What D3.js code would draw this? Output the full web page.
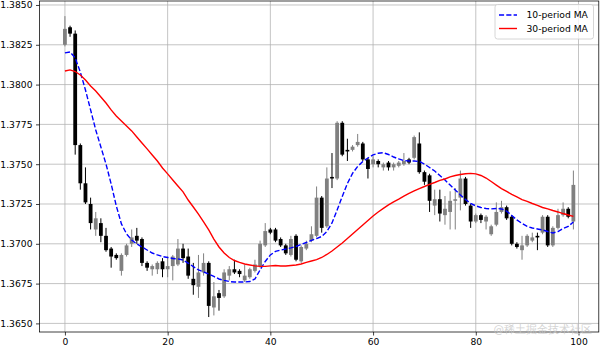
<!DOCTYPE html>
<html><head><meta charset="utf-8">
<script src="https://cdn.jsdelivr.net/npm/d3@7"></script>
<style>
body{margin:0;background:#fff}
svg{display:block}
text{font-family:"DejaVu Sans",sans-serif}
</style>
</head><body>
<svg id="chart" width="600" height="346"></svg>
<script>
// ---- data ----
const opens  = [1.3825,1.3836,1.3832,1.3762,1.3738,1.3725,1.3709,1.3713,1.3705,1.3697,
                1.3693,1.3683,1.3693,1.3700,1.3705,1.3703,1.3688,1.3684,1.3684,1.3689,
                1.3684,1.3686,1.3687,1.3697,1.3692,1.3678,1.3673,1.3682,1.3688,1.3660,
                1.3669,1.3667,1.3680,1.3684,1.3683,1.3677,1.3679,1.3683,1.3686,1.3699,
                1.3709,1.3709,1.3703,1.3699,1.3693,1.3705,1.3689,1.3697,1.3702,1.3705,
                1.3729,1.3711,1.3742,1.3741,1.3776,1.3759,1.3759,1.3762,1.3763,1.3753,
                1.3750,1.3752,1.3748,1.3751,1.3748,1.3749,1.3750,1.3753,1.3754,1.3763,
                1.3745,1.3743,1.3724,1.3728,1.3718,1.3720,1.3727,1.3729,1.3741,1.3724,
                1.3714,1.3718,1.3714,1.3706,1.3712,1.3720,1.3723,1.3717,1.3700,1.3696,
                1.3699,1.3702,1.3705,1.3707,1.3717,1.3699,1.3710,1.3718,1.3722,1.3714];
const highs  = [1.3843,1.3837,1.3834,1.3763,1.3748,1.3729,1.3720,1.3716,1.3710,1.3698,
                1.3694,1.3694,1.3700,1.3709,1.3710,1.3704,1.3689,1.3687,1.3689,1.3691,
                1.3692,1.3693,1.3703,1.3700,1.3697,1.3688,1.3693,1.3694,1.3689,1.3676,
                1.3671,1.3684,1.3686,1.3690,1.3684,1.3687,1.3685,1.3690,1.3702,1.3713,
                1.3710,1.3710,1.3704,1.3700,1.3705,1.3706,1.3699,1.3702,1.3711,1.3736,
                1.3730,1.3748,1.3757,1.3777,1.3777,1.3766,1.3762,1.3769,1.3764,1.3754,
                1.3755,1.3753,1.3751,1.3752,1.3751,1.3752,1.3757,1.3754,1.3768,1.3770,
                1.3746,1.3744,1.3734,1.3734,1.3730,1.3733,1.3735,1.3746,1.3742,1.3725,
                1.3719,1.3719,1.3718,1.3712,1.3726,1.3727,1.3724,1.3718,1.3701,1.3705,
                1.3706,1.3707,1.3707,1.3718,1.3718,1.3711,1.3722,1.3726,1.3723,1.3746];
const lows   = [1.3824,1.3830,1.3756,1.3734,1.3725,1.3709,1.3705,1.3701,1.3695,1.3685,
                1.3690,1.3680,1.3692,1.3698,1.3700,1.3686,1.3683,1.3680,1.3681,1.3679,
                1.3679,1.3677,1.3686,1.3688,1.3678,1.3668,1.3666,1.3680,1.3654,1.3655,
                1.3658,1.3666,1.3677,1.3681,1.3679,1.3676,1.3678,1.3682,1.3685,1.3698,
                1.3706,1.3701,1.3698,1.3693,1.3692,1.3689,1.3688,1.3696,1.3701,1.3704,
                1.3707,1.3710,1.3735,1.3740,1.3755,1.3752,1.3758,1.3761,1.3752,1.3741,
                1.3748,1.3748,1.3746,1.3746,1.3746,1.3748,1.3749,1.3750,1.3753,1.3744,
                1.3737,1.3720,1.3718,1.3714,1.3712,1.3709,1.3709,1.3721,1.3724,1.3710,
                1.3713,1.3713,1.3709,1.3705,1.3711,1.3719,1.3715,1.3699,1.3697,1.3690,
                1.3698,1.3701,1.3696,1.3706,1.3698,1.3698,1.3709,1.3717,1.3716,1.3709];
const closes = [1.3835,1.3832,1.3762,1.3738,1.3726,1.3713,1.3716,1.3705,1.3696,1.3692,
                1.3691,1.3693,1.3699,1.3704,1.3702,1.3688,1.3685,1.3686,1.3688,1.3684,
                1.3686,1.3692,1.3697,1.3691,1.3680,1.3674,1.3682,1.3688,1.3661,1.3667,
                1.3666,1.3682,1.3684,1.3682,1.3681,1.3680,1.3684,1.3687,1.3700,1.3708,
                1.3707,1.3702,1.3699,1.3694,1.3703,1.3690,1.3698,1.3700,1.3706,1.3729,
                1.3710,1.3741,1.3741,1.3776,1.3756,1.3758,1.3761,1.3764,1.3753,1.3747,
                1.3753,1.3750,1.3750,1.3748,1.3750,1.3751,1.3752,1.3751,1.3767,1.3745,
                1.3739,1.3727,1.3728,1.3719,1.3722,1.3727,1.3728,1.3741,1.3725,1.3714,
                1.3718,1.3715,1.3717,1.3711,1.3720,1.3723,1.3716,1.3700,1.3698,1.3699,
                1.3705,1.3704,1.3704,1.3717,1.3699,1.3710,1.3718,1.3722,1.3717,1.3737];
const ma10 = [1.38199,1.38205,1.38167,1.38079,1.37966,1.37841,1.37715,1.37608,1.37501,1.37376,
              1.37238,1.37125,1.37062,1.37024,1.36999,1.36980,1.36961,1.36942,1.36930,1.36920,
              1.36914,1.36908,1.36905,1.36898,1.36879,1.36857,1.36836,1.36823,1.36810,1.36795,
              1.36779,1.36770,1.36763,1.36760,1.36760,1.36760,1.36763,1.36779,1.36836,1.36889,
              1.36930,1.36952,1.36961,1.36967,1.36974,1.36983,1.36996,1.37008,1.37021,1.37033,
              1.37046,1.37077,1.37131,1.37212,1.37297,1.37379,1.37442,1.37486,1.37517,1.37539,
              1.37558,1.37569,1.37572,1.37561,1.37545,1.37533,1.37523,1.37520,1.37520,1.37517,
              1.37501,1.37479,1.37457,1.37429,1.37401,1.37369,1.37338,1.37307,1.37278,1.37254,
              1.37238,1.37228,1.37222,1.37219,1.37222,1.37219,1.37206,1.37178,1.37150,1.37128,
              1.37109,1.37099,1.37093,1.37087,1.37077,1.37068,1.37077,1.37096,1.37109,1.37137];
const ma30 = [1.38085,1.38092,1.38082,1.38060,1.38029,1.37991,1.37960,1.37922,1.37884,1.37841,
              1.37803,1.37771,1.37740,1.37709,1.37671,1.37633,1.37596,1.37558,1.37520,1.37476,
              1.37439,1.37401,1.37363,1.37326,1.37275,1.37231,1.37187,1.37137,1.37087,1.37030,
              1.36980,1.36942,1.36914,1.36895,1.36883,1.36873,1.36867,1.36861,1.36858,1.36858,
              1.36861,1.36864,1.36861,1.36861,1.36864,1.36867,1.36873,1.36883,1.36892,1.36901,
              1.36914,1.36933,1.36955,1.36980,1.37005,1.37033,1.37062,1.37090,1.37118,1.37146,
              1.37175,1.37200,1.37222,1.37244,1.37263,1.37281,1.37300,1.37316,1.37332,1.37347,
              1.37360,1.37373,1.37385,1.37398,1.37407,1.37420,1.37429,1.37435,1.37440,1.37442,
              1.37439,1.37429,1.37413,1.37391,1.37369,1.37347,1.37329,1.37310,1.37294,1.37278,
              1.37266,1.37253,1.37241,1.37228,1.37219,1.37209,1.37200,1.37190,1.37181,1.37172];
const xTicks = [0, 20, 40, 60, 80, 100];
const yTicks = [1.3650, 1.3675, 1.3700, 1.3725, 1.3750, 1.3775, 1.3800, 1.3825, 1.3850];
const seriesNames = ["10-period MA", "30-period MA"];
const watermark = "@稀土掘金技术社区";

// ---- layout ----
const L = 39.5, R = 598.8, T = 1, B = 332;
const fs = 9.2;
const svg = d3.select("#chart");
const x = d3.scaleLinear().domain([-4.95, 103.95]).range([L, R]);
const y = d3.scaleLinear().domain([1.36446, 1.38525]).range([B, T]);
const candles = opens.map((o, i) => ({i, o, h: highs[i], l: lows[i], c: closes[i]}));

svg.append("defs").append("clipPath").attr("id", "clip")
  .append("rect").attr("x", L).attr("y", T).attr("width", R - L).attr("height", B - T);

// grid
const grid = svg.append("g").attr("stroke", "#b0b0b0").attr("stroke-width", 0.75);
grid.selectAll(".gx").data(xTicks).join("line")
  .attr("x1", d => x(d)).attr("x2", d => x(d)).attr("y1", T).attr("y2", B);
grid.selectAll(".gy").data(yTicks).join("line")
  .attr("y1", d => y(d)).attr("y2", d => y(d)).attr("x1", L).attr("x2", R);

// candles
const plot = svg.append("g").attr("clip-path", "url(#clip)");
const col = d => d.c >= d.o ? "#808080" : "#000000";
const bw = 0.74;
plot.append("g").selectAll("line").data(candles).join("line")
  .attr("x1", d => x(d.i)).attr("x2", d => x(d.i))
  .attr("y1", d => y(d.h)).attr("y2", d => y(d.l))
  .attr("stroke", col).attr("stroke-width", 1);
plot.append("g").selectAll("rect").data(candles).join("rect")
  .attr("x", d => x(d.i - bw / 2))
  .attr("width", x(bw) - x(0))
  .attr("y", d => y(Math.max(d.o, d.c)))
  .attr("height", d => Math.max(0.8, Math.abs(y(d.o) - y(d.c))))
  .attr("fill", col);

// moving averages
const line = arr => d3.line().x((d, i) => x(i)).y(d => y(d))(arr);
plot.append("path").attr("d", line(ma10)).attr("fill", "none")
  .attr("stroke", "#0000ff").attr("stroke-width", 1.4).attr("stroke-dasharray", "5.1,2.2");
plot.append("path").attr("d", line(ma30)).attr("fill", "none")
  .attr("stroke", "#ff0000").attr("stroke-width", 1.4);

// axes
const ax = svg.append("g").attr("transform", `translate(0,${B})`)
  .call(d3.axisBottom(x).tickValues(xTicks).tickFormat(d3.format("d")).tickSize(3.5).tickPadding(3.3));
const ay = svg.append("g").attr("transform", `translate(${L},0)`)
  .call(d3.axisLeft(y).tickValues(yTicks).tickFormat(d3.format(".4f")).tickSize(3.5).tickPadding(3.5));
[ax, ay].forEach(g => {
  g.select(".domain").remove();
  g.selectAll("line").attr("stroke", "#000").attr("stroke-width", 0.75);
  g.selectAll("text").attr("font-size", fs).attr("fill", "#000")
    .attr("font-family", '"DejaVu Sans", sans-serif');
});

// spines
svg.append("rect").attr("x", L).attr("y", T).attr("width", R - L).attr("height", B - T)
  .attr("fill", "none").attr("stroke", "#000").attr("stroke-width", 0.75);

// legend
const lg = svg.append("g");
lg.append("rect").attr("x", 495).attr("y", 4.5).attr("width", 98.5).attr("height", 34.5)
  .attr("rx", 2.5).attr("fill", "#fff").attr("fill-opacity", 0.8)
  .attr("stroke", "#cccccc").attr("stroke-width", 0.8);
const lstyle = [{c: "#0000ff", dash: "5.1,2.2"}, {c: "#ff0000", dash: null}];
seriesNames.forEach((name, k) => {
  const yy = 15 + k * 13.5;
  lg.append("line").attr("x1", 499).attr("x2", 517).attr("y1", yy).attr("y2", yy)
    .attr("stroke", lstyle[k].c).attr("stroke-width", 1.4)
    .attr("stroke-dasharray", lstyle[k].dash);
  lg.append("text").attr("x", 526.5).attr("y", yy).attr("dy", "0.35em")
    .attr("font-size", fs).attr("fill", "#000").text(name);
});

// watermark
svg.append("text").attr("x", 592).attr("y", 332.5).attr("text-anchor", "end")
  .attr("font-family", '"Noto Sans CJK SC", sans-serif').attr("font-size", 10.5)
  .attr("fill", "#c8c8c8").attr("fill-opacity", 0.8).text(watermark);
</script>
</body></html>
